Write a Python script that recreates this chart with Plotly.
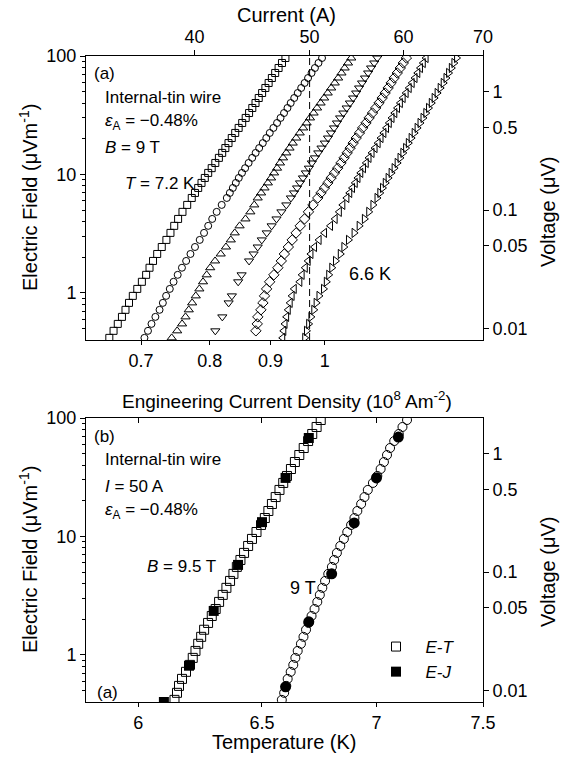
import math
import plotly.graph_objects as go

# ---------------------------------------------------------------------------
# (a) E-I characteristics of the internal-tin wire, B = 9 T, eps_A = -0.48 %
#     field levels (uV/m) at which the current (A) was read for each temperature
# ---------------------------------------------------------------------------
E_GRID_A = [0.417, 0.478, 0.547, 0.627, 0.719, 0.823, 0.943, 1.08, 1.24, 1.42,
            1.63, 1.86, 2.13, 2.44, 2.80, 3.21, 3.68, 4.21, 4.83, 5.53, 6.33,
            6.98, 7.69, 8.48, 9.34, 10.3, 11.3, 12.5, 13.8, 15.2, 16.7,
            18.4, 20.3, 22.4, 24.7, 27.2, 30.0, 33.0, 36.4, 40.1, 44.2,
            48.7, 53.7, 59.2, 65.2, 71.9, 79.2, 87.3, 96.2]

I_72K = [33.90, 34.18, 34.46, 34.74, 34.98, 35.22, 35.48, 35.79, 36.11, 36.41,
         36.65, 36.90, 37.20, 37.53, 37.87, 38.17, 38.45, 38.74, 39.07, 39.43, 39.78,
         40.03, 40.28, 40.54, 40.80, 41.07, 41.35, 41.64, 41.93, 42.20, 42.46,
         42.72, 42.99, 43.28, 43.57, 43.87, 44.17, 44.46, 44.74, 45.02, 45.30,
         45.60, 45.89, 46.18, 46.47, 46.77, 47.08, 47.39, 47.71]
I_71K = [36.29, 36.54, 36.79, 37.07, 37.37, 37.61, 37.85, 38.12, 38.40, 38.71,
         39.03, 39.35, 39.68, 40.03, 40.40, 40.74, 41.07, 41.39, 41.75, 42.16, 42.58,
         42.83, 43.08, 43.33, 43.58, 43.85, 44.12, 44.42, 44.73, 45.03, 45.34,
         45.66, 45.97, 46.28, 46.61, 46.94, 47.26, 47.58, 47.90, 48.20, 48.53,
         48.86, 49.19, 49.52, 49.85, 50.19, 50.52, 50.87, 51.22]
I_70K = [38.26, 38.67, 39.04, 39.30, 39.55, 39.81, 40.09, 40.37, 40.66, 40.95,
         41.23, 41.62, 42.08, 42.51, 42.91, 43.24, 43.65, 44.15, 44.57, 44.91, 45.21,
         45.51, 45.81, 46.11, 46.40, 46.67, 46.94, 47.21, 47.49, 47.79, 48.09,
         48.39, 48.72, 49.05, 49.38, 49.71, 50.04, 50.39, 50.73, 51.08, 51.43,
         51.79, 52.14, 52.50, 52.85, 53.19, 53.52, 53.87, 54.21]
I_69K = [None, 41.64, None, 42.21, None, 42.73, 43.00, None, 43.53, 43.82,
         None, 44.46, 44.85, 45.21, 45.57, 46.01, 46.45, 46.89, 47.34, 47.79, 48.22,
         48.51, 48.80, 49.08, 49.36, 49.64, 49.93, 50.22, 50.52, 50.85, 51.17,
         51.50, 51.82, 52.12, 52.43, 52.73, 53.05, 53.39, 53.73, 54.07, 54.41,
         54.73, 55.04, 55.36, 55.68, 56.02, 56.34, 56.68, 57.02]
I_68K = [None, 45.05, 45.17, 45.22, 45.49, 45.67, 45.81, 46.00, 46.27, 46.65,
         47.01, 47.33, 47.61, 47.98, 48.34, 48.71, 49.10, 49.51, 49.89, 50.33, 50.80,
         51.12, 51.46, 51.80, 52.13, 52.47, 52.80, 53.14, 53.46, 53.78, 54.09,
         54.41, 54.73, 55.08, 55.42, 55.78, 56.12, 56.49, 56.84, 57.21, 57.56,
         57.89, 58.23, 58.57, 58.91, 59.27, 59.62, 59.97, 60.33]
I_67K = [47.46, 47.56, 47.67, 47.82, 47.97, 48.15, 48.33, 48.53, 49.06, 49.28,
         49.58, 49.86, 50.13, 50.48, 50.93, 51.47, 52.07, 52.54, 52.97, 53.33, 53.75,
         54.05, 54.34, 54.63, 54.92, 55.22, 55.51, 55.81, 56.11, 56.44, 56.77,
         57.11, 57.43, 57.75, 58.05, 58.36, 58.67, 58.99, 59.30, 59.63, 59.95,
         60.30, 60.66, 61.01, 61.35, 61.68, 62.00, 62.34, 62.68]
I_66K = [49.53, 49.70, 49.91, 50.13, 50.41, 50.64, 50.92, 51.37, 51.65, 51.89,
         52.20, 52.58, 53.07, 53.44, 53.92, 54.51, 55.05, 55.61, 56.08, 56.54, 56.99,
         57.30, 57.60, 57.91, 58.23, 58.57, 58.91, 59.26, 59.59, 59.92, 60.24,
         60.56, 60.89, 61.25, 61.60, 61.95, 62.31, 62.65, 62.98, 63.32, 63.67,
         64.04, 64.42, 64.80, 65.15, 65.48, 65.83, 66.16, 66.50]

TEMPS_A = ["7.2 K", "7.1 K", "7.0 K", "6.9 K", "6.8 K", "6.7 K", "6.6 K"]
CURRENTS_A = [I_72K, I_71K, I_70K, I_69K, I_68K, I_67K, I_66K]

# ---------------------------------------------------------------------------
# (b) E-T at I = 50 A (open) compared with E-J converted to temperature (filled)
# ---------------------------------------------------------------------------
E_GRID_B = [0.417, 0.478, 0.547, 0.627, 0.719, 0.823, 0.943, 1.08, 1.24, 1.42,
            1.63, 1.86, 2.13, 2.44, 2.80, 3.21, 3.68, 4.21, 4.83, 5.53, 6.33,
            7.26, 8.31, 9.53, 10.9, 12.5, 14.3, 16.4, 18.8, 21.5, 24.7,
            28.3, 32.4, 37.1, 42.5, 48.7, 55.8, 63.9, 73.3, 84.0, 96.2]
T_ET_95T = [6.142, 6.152, 6.160, 6.172, 6.188, 6.204, 6.215, 6.226, 6.237, 6.249,
            6.261, 6.277, 6.292, 6.308, 6.322, 6.337, 6.352, 6.367, 6.381, 6.395,
            6.410, 6.425, 6.442, 6.458, 6.477, 6.496, 6.512, 6.527, 6.542, 6.558,
            6.574, 6.590, 6.606, 6.623, 6.640, 6.659, 6.678, 6.697, 6.715, 6.734, 6.752]
T_ET_9T = [6.584, 6.594, 6.603, 6.609, 6.622, 6.633, 6.642, 6.652, 6.666, 6.677,
           6.688, 6.699, 6.712, 6.725, 6.737, 6.748, 6.759, 6.771, 6.785, 6.801,
           6.811, 6.823, 6.838, 6.854, 6.869, 6.886, 6.901, 6.914, 6.931, 6.946,
           6.961, 6.984, 7.004, 7.019, 7.034, 7.048, 7.062, 7.081, 7.102, 7.119, 7.140]

T_EJ_95T = [6.1, 6.2, 6.3, 6.4, 6.5, 6.6, 6.7]
E_EJ_95T = [0.40, 0.81, 2.35, 5.75, 13.2, 31.2, 67.8]
T_EJ_9T = [6.6, 6.7, 6.8, 6.9, 7.0, 7.1]
E_EJ_9T = [0.537, 1.90, 4.83, 13.0, 31.2, 69.0]

# axis scales and tick labels
E_RANGE = (0.4, 100.0)            # uV/m
TAP_LENGTH = 0.02                 # m, voltage = E * tap length
I_PER_JE = 51.5                   # A per 1e8 A/m^2 (engineering cross-section)
I_RANGE = (32.4, 70.0)            # A
I_REF = 50.0                      # A, current of the E-T runs
T_RANGE = (5.8, 7.5)              # K
I_TICKS = [40, 50, 60, 70]
JE_TICKS = [0.7, 0.8, 0.9, 1]
JE_LABELS = ["0.7", "0.8", "0.9", "1"]
T_TICKS = [6, 6.5, 7, 7.5]
T_LABELS = ["6", "6.5", "7", "7.5"]
E_TICKS = [1, 10, 100]
E_MINOR = [0.5, 0.6, 0.7, 0.8, 0.9, 2, 3, 4, 5, 6, 7, 8, 9,
           20, 30, 40, 50, 60, 70, 80, 90]
V_TICKS = [0.01, 0.05, 0.1, 0.5, 1]
V_LABELS = ["0.01", "0.05", "0.1", "0.5", "1"]

SYMBOLS_A = ["square-open", "circle-open", "triangle-up-open", "triangle-down-open",
             "diamond-open", "triangle-left-open", "triangle-right-open"]

FONT = "Liberation Sans, Arial, Helvetica, sans-serif"
W, H = 570, 757
lg = math.log10


def px(x):
    return x / W


def py(y):
    return 1 - y / H


XDOM = [px(86), px(483)]
YDOM_A = [py(340), py(56)]
YDOM_B = [py(702), py(418)]

fig = go.Figure()

for cur, sym, name in zip(CURRENTS_A, SYMBOLS_A, TEMPS_A):
    size = 7 if sym in ("square-open", "circle-open") else 8
    fig.add_trace(go.Scatter(
        x=cur, y=E_GRID_A, mode="markers", name=name, showlegend=False,
        xaxis="x", yaxis="y",
        marker=dict(symbol=sym, size=size, color="black", line=dict(width=1, color="black"))))

fig.add_trace(go.Scatter(
    x=T_ET_95T, y=E_GRID_B, mode="markers", name="\u00a0\u00a0<i>E-T</i>",
    xaxis="x3", yaxis="y3",
    marker=dict(symbol="square-open", size=9, color="black", line=dict(width=1, color="black"))))
fig.add_trace(go.Scatter(
    x=T_ET_9T, y=E_GRID_B, mode="markers", name="9 T E-T", showlegend=False,
    xaxis="x3", yaxis="y3",
    marker=dict(symbol="circle-open", size=9, color="black", line=dict(width=1, color="black"))))
fig.add_trace(go.Scatter(
    x=T_EJ_95T, y=E_EJ_95T, mode="markers", name="\u00a0\u00a0<i>E-J</i>",
    xaxis="x3", yaxis="y3",
    marker=dict(symbol="square", size=10, color="black", line=dict(width=0))))
fig.add_trace(go.Scatter(
    x=T_EJ_9T, y=E_EJ_9T, mode="markers", name="9 T E-J", showlegend=False,
    xaxis="x3", yaxis="y3",
    marker=dict(symbol="circle", size=11, color="black", line=dict(width=0))))

# empty traces so the secondary scales (Je, voltage, top ticks of panel b) are drawn
for xa, ya in (("x2", "y2"), ("x4", "y4")):
    fig.add_trace(go.Scatter(x=[], y=[], mode="markers", showlegend=False,
                             hoverinfo="skip", xaxis=xa, yaxis=ya))

tickfont = dict(family=FONT, size=18, color="black")
common = dict(showline=True, linecolor="black", linewidth=1, showgrid=False,
              zeroline=False, ticks="outside", ticklen=5, tickwidth=1,
              tickcolor="black", tickfont=tickfont, tickmode="array",
              automargin=False)
minor = dict(tickvals=E_MINOR, ticks="outside", ticklen=3, tickwidth=1,
             tickcolor="black", showgrid=False)

fig.update_layout(
    width=W, height=H,
    margin=dict(l=0, r=0, t=0, b=0, autoexpand=False),
    paper_bgcolor="white", plot_bgcolor="white",
    font=dict(family=FONT, size=17, color="black"),
    xaxis=dict(common, type="log", domain=XDOM, anchor="y", side="top",
               range=[lg(I_RANGE[0]), lg(I_RANGE[1])], tickvals=I_TICKS),
    xaxis2=dict(common, type="log", overlaying="x", anchor="y", side="bottom",
                range=[lg(I_RANGE[0] / I_PER_JE), lg(I_RANGE[1] / I_PER_JE)],
                tickvals=JE_TICKS, ticktext=JE_LABELS, ticklen=4),
    yaxis=dict(common, type="log", domain=YDOM_A, anchor="x", side="left",
               range=[lg(E_RANGE[0]), lg(E_RANGE[1])], tickvals=E_TICKS, minor=minor),
    yaxis2=dict(common, type="log", overlaying="y", anchor="x", side="right",
                range=[lg(E_RANGE[0] * TAP_LENGTH), lg(E_RANGE[1] * TAP_LENGTH)],
                tickvals=V_TICKS, ticktext=V_LABELS),
    xaxis3=dict(common, type="log", domain=XDOM, anchor="y3", side="bottom",
                range=[lg(T_RANGE[0]), lg(T_RANGE[1])], tickvals=T_TICKS, ticktext=T_LABELS,
                ticklen=4),
    xaxis4=dict(common, type="log", overlaying="x3", anchor="y3", side="top",
                range=[lg(T_RANGE[0]), lg(T_RANGE[1])], tickvals=T_TICKS[:-1],
                ticks="inside", showticklabels=False),
    yaxis3=dict(common, type="log", domain=YDOM_B, anchor="x3", side="left",
                range=[lg(E_RANGE[0]), lg(E_RANGE[1])], tickvals=E_TICKS, minor=minor),
    yaxis4=dict(common, type="log", overlaying="y3", anchor="x3", side="right",
                range=[lg(E_RANGE[0] * TAP_LENGTH), lg(E_RANGE[1] * TAP_LENGTH)],
                tickvals=V_TICKS, ticktext=V_LABELS),
    legend=dict(x=px(376), y=py(629), xanchor="left", yanchor="top",
                bgcolor="rgba(0,0,0,0)", font=dict(family=FONT, size=17),
                tracegroupgap=0, itemwidth=30),
)

# dashed marker of the E-T transport current in panel (a)
fig.add_shape(type="line", xref="x", yref="y domain", x0=I_REF, x1=I_REF, y0=0, y1=1,
              line=dict(color="black", width=1, dash="7px,4px"))


def note(text, x, y, size=17, xanchor="left", angle=0):
    fig.add_annotation(text=text, x=px(x), y=py(y), xref="paper", yref="paper",
                       xanchor=xanchor, yanchor="middle", showarrow=False,
                       textangle=angle, font=dict(family=FONT, size=size, color="black"))


EPS = "<i>\u03b5</i><sub>A</sub> = \u22120.48%"

# panel (a) labels
note("(a)", 92, 74)
note("Internal-tin wire", 103, 97)
note(EPS, 103, 122)
note("<i>B</i> = 9 T", 103, 148)
note("<i>T</i> = 7.2 K", 123, 183)
note("6.6 K", 370, 274, size=18, xanchor="center")

# panel (b) labels
note("(b)", 92, 436)
note("Internal-tin wire", 103, 459)
note("<i>I</i> = 50 A", 103, 486)
note(EPS, 103, 511)
note("<i>B</i> = 9.5 T", 145, 566)
note("9 T", 288, 588, size=18)
note("(a)", 95, 692)

# axis titles
note("Current (A)", 286, 15, size=20, xanchor="center")
note("Engineering Current Density (10<sup>8</sup> Am<sup>-2</sup>)", 287, 400,
     size=19, xanchor="center")
note("Electric Field (\u03bcVm<sup>-1</sup>)", 28, 198, size=20, xanchor="center", angle=-90)
note("Voltage (\u03bcV)", 548, 212, size=20, xanchor="center", angle=-90)
note("Electric Field (\u03bcVm<sup>-1</sup>)", 28, 560, size=20, xanchor="center", angle=-90)
note("Voltage (\u03bcV)", 548, 572, size=20, xanchor="center", angle=-90)
note("Temperature (K)", 284, 742, size=20, xanchor="center")

fig.write_html("out.html")
